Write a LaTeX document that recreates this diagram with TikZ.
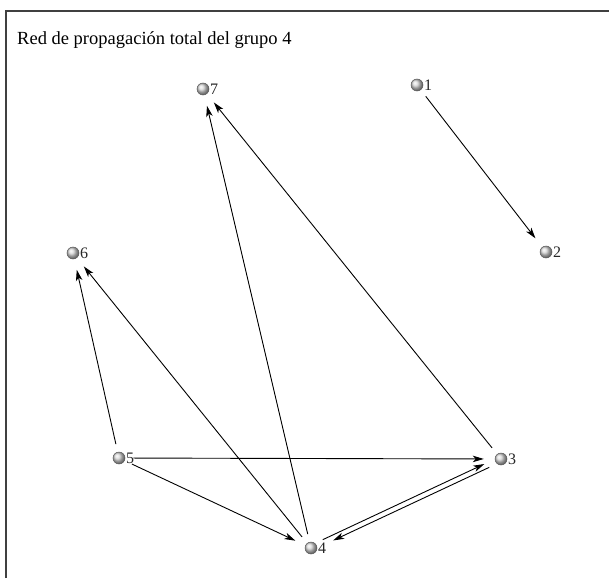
\documentclass[tikz,border=0pt]{standalone}
\usepackage{fontspec}
\setmainfont{Liberation Serif}
\usetikzlibrary{arrows.meta}
\begin{document}
\begin{tikzpicture}[x=1pt,y=-1pt,
  vtx/.style={circle, minimum size=12pt, inner sep=0pt, ball color=gray!30, draw=black!65, line width=0.5pt},
  lbl/.style={font=\fontsize{16}{16}\selectfont, text=black!85, inner sep=0pt, anchor=west},
  arr/.style={-{Stealth[length=11pt,width=6.5pt,inset=3pt]}, line width=0.9pt, shorten <=8pt, shorten >=11pt},
  frame/.style={line width=1.6pt, draw=black!75}]
\useasboundingbox (0,0) rectangle (609,578);
\draw[frame] (6,578) -- (6,11) -- (609,11);
\node[anchor=base west, font=\fontsize{18.5}{21}\selectfont, inner sep=0pt] (title) at (17,45) {Red de propagación total del grupo 4};
\node[vtx] (n1) at (417,85) {};
\node[vtx] (n2) at (546,252) {};
\node[vtx] (n3) at (501,459) {};
\node[vtx] (n4) at (311,548) {};
\node[vtx] (n5) at (119,458) {};
\node[vtx] (n6) at (73,253) {};
\node[vtx] (n7) at (203,89) {};
\foreach \i in {1,...,7}{\node[lbl] (l\i) at ([xshift=0.6pt]n\i.east) {\i};}
\draw[arr] (n1) -- (n2);
\draw[arr] (n3) -- (n7);
\draw[arr] (n4) -- (n7);
\draw[arr] (n4) -- (n6);
\draw[arr] (n5) -- (n6);
\draw[arr] (n5) -- (n3);
\draw[arr] (n5) -- (n4);
\draw[arr, transform canvas={shift={(-1.1pt,2.3pt)}}] (n4) -- (n3);
\draw[arr, shorten >=17pt, transform canvas={shift={(1.1pt,-2.3pt)}}] (n3) -- (n4);
\end{tikzpicture}
\end{document}
